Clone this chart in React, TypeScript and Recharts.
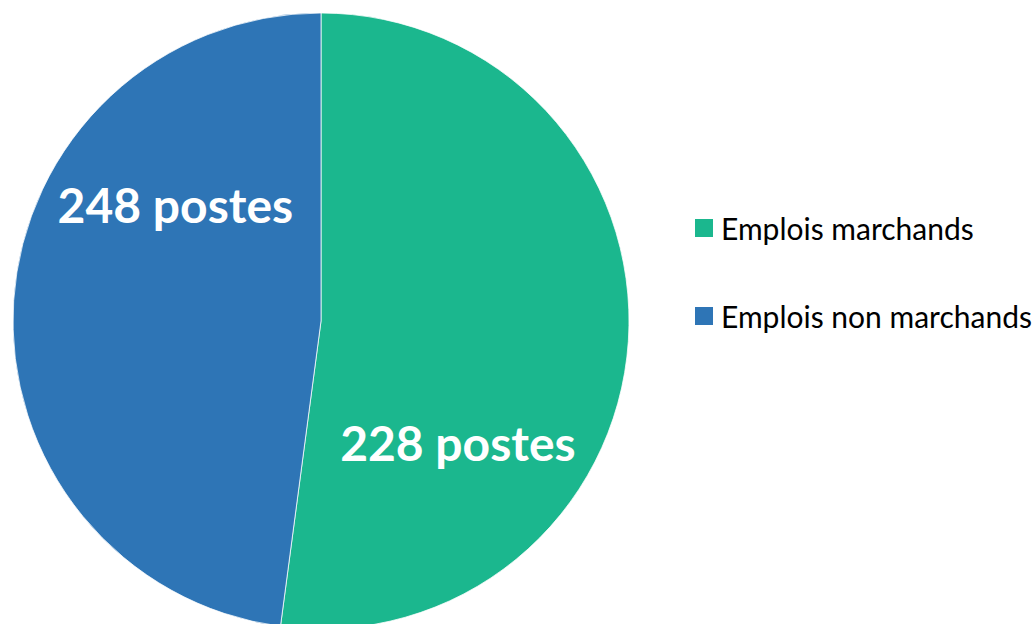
import { Legend, Pie, PieChart, Cell } from "recharts";

const categories = ["Emplois marchands", "Emplois non marchands"];
const sliceValues = [248, 228];
const sliceLabels = ["228 postes", "248 postes"];

const sliceColors = ["#1bb78e", "#2e75b6"];
// where Excel put each label: angle (deg, counter-clockwise from 3 o'clock) and share of radius
const labelAngles = [-42.2, 142];
const labelRadius = 0.6;

const data = categories.map((name, i) => ({
  name,
  value: sliceValues[i],
  label: sliceLabels[i],
}));

type LabelProps = {
  cx: number;
  cy: number;
  outerRadius: number;
  index: number;
};

function renderSliceLabel({ cx, cy, outerRadius, index }: LabelProps) {
  const rad = (labelAngles[index] * Math.PI) / 180;
  const r = outerRadius * labelRadius;
  const x = cx + r * Math.cos(rad);
  const y = cy - r * Math.sin(rad);
  return (
    <text
      x={x}
      y={y}
      dy={-3}
      fill="#ffffff"
      fontFamily="Lato, sans-serif"
      fontWeight={700}
      fontSize={48}
      textAnchor="middle"
      dominantBaseline="central"
    >
      {sliceLabels[index]}
    </text>
  );
}

function renderLegend() {
  return (
    <div style={{ display: "flex", flexDirection: "column", gap: 58 }}>
      {categories.map((name, i) => (
        <div
          key={name}
          style={{ display: "flex", alignItems: "center", height: 30 }}
        >
          <span
            style={{
              width: 18,
              height: 18,
              background: sliceColors[i],
              marginRight: 8,
              display: "inline-block",
              flexShrink: 0,
            }}
          />
          <span
            style={{
              fontFamily: "Lato, sans-serif",
              fontSize: 30,
              lineHeight: "30px",
              color: "#000",
              whiteSpace: "nowrap",
            }}
          >
            {name}
          </span>
        </div>
      ))}
    </div>
  );
}

export default function App() {
  return (
    <div
      style={{
        position: "absolute",
        left: 0,
        top: 0,
        width: 1034,
        height: 624,
        overflow: "hidden",
        background: "#fff",
      }}
    >
      <PieChart
        width={1034}
        height={624}
        margin={{ top: 0, right: 0, bottom: 0, left: 0 }}
      >
        <Pie
          data={data}
          dataKey="value"
          nameKey="name"
          cx={321}
          cy={321}
          outerRadius={308}
          startAngle={90}
          endAngle={-270}
          stroke="#ffffff"
          strokeWidth={0.75}
          label={renderSliceLabel}
          labelLine={false}
          isAnimationActive={false}
        >
          {data.map((entry, i) => (
            <Cell key={entry.name} fill={sliceColors[i]} />
          ))}
        </Pie>
        <Legend
          content={renderLegend}
          layout="vertical"
          wrapperStyle={{ left: 695, top: 213, width: 339 }}
        />
      </PieChart>
    </div>
  );
}
